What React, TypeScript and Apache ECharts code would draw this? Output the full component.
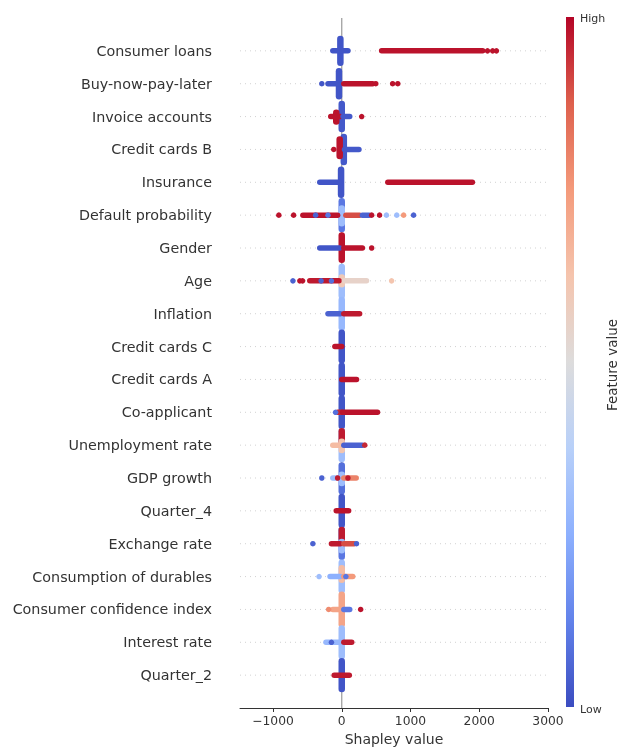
import React, { useEffect, useRef } from "react";
import * as echarts from "echarts";

// Features, top to bottom
const features = [
  "Consumer loans", "Buy-now-pay-later", "Invoice accounts", "Credit cards B", "Insurance",
  "Default probability", "Gender", "Age", "Inflation", "Credit cards C", "Credit cards A",
  "Co-applicant", "Unemployment rate", "GDP growth", "Quarter_4", "Exchange rate",
  "Consumption of durables", "Consumer confidence index", "Interest rate", "Quarter_2",
];

const xTicks = [-1000, 0, 1000, 2000, 3000];

// Dense vertical piles of points: [feature, shap value, low offset (rows), high offset (rows), feature value 0..1]
const piles: [string, number, number, number, number][] = [
  ["Consumer loans", -20, -0.36, 0.36, 0.02],
  ["Buy-now-pay-later", -40, -0.38, 0.38, 0.02],
  ["Invoice accounts", 0, -0.38, 0.38, 0.03],
  ["Invoice accounts", -80, -0.15, 0.12, 0.98],
  ["Credit cards B", 30, -0.38, 0.38, 0.03],
  ["Credit cards B", -30, -0.2, 0.3, 0.98],
  ["Insurance", -10, -0.38, 0.38, 0.02],
  ["Default probability", 0, -0.42, 0.42, 0.1],
  ["Default probability", 0, -0.25, 0.2, 0.3],
  ["Gender", 0, -0.36, 0.38, 0.98],
  ["Age", 0, -0.45, 0.42, 0.3],
  ["Age", 0, -0.1, 0.1, 0.6],
  ["Inflation", 0, -0.42, 0.42, 0.28],
  ["Credit cards C", 0, -0.42, 0.42, 0.02],
  ["Credit cards A", 0, -0.42, 0.42, 0.02],
  ["Co-applicant", 0, -0.42, 0.42, 0.02],
  ["Unemployment rate", 0, -0.42, 0.42, 0.3],
  ["Unemployment rate", 0, 0.1, 0.42, 0.97],
  ["Unemployment rate", 0, -0.15, 0.1, 0.62],
  ["GDP growth", 0, -0.4, 0.38, 0.08],
  ["GDP growth", 0, -0.15, 0.1, 0.3],
  ["Quarter_4", 0, -0.42, 0.42, 0.02],
  ["Exchange rate", 0, -0.4, 0.42, 0.1],
  ["Exchange rate", 0, 0.15, 0.42, 0.97],
  ["Exchange rate", 0, -0.2, 0.05, 0.3],
  ["Consumption of durables", 0, -0.42, 0.42, 0.3],
  ["Consumption of durables", 0, -0.1, 0.25, 0.65],
  ["Consumer confidence index", 0, -0.45, 0.45, 0.72],
  ["Interest rate", 0, -0.42, 0.42, 0.3],
  ["Quarter_2", 0, -0.42, 0.42, 0.02],
];

// Dense horizontal runs of points: [feature, from shap, to shap, feature value]
const streaks: [string, number, number, number][] = [
  ["Consumer loans", -130, 90, 0.02],
  ["Consumer loans", 580, 2050, 0.98],
  ["Buy-now-pay-later", -200, -20, 0.02],
  ["Buy-now-pay-later", 30, 450, 0.98],
  ["Invoice accounts", -160, -20, 0.98],
  ["Invoice accounts", 20, 116, 0.03],
  ["Credit cards B", 40, 250, 0.03],
  ["Insurance", -320, -20, 0.02],
  ["Insurance", 670, 1900, 0.98],
  ["Default probability", -565, -60, 0.98],
  ["Default probability", 60, 260, 0.9],
  ["Default probability", 300, 400, 0.05],
  ["Gender", -320, -30, 0.02],
  ["Gender", 30, 300, 0.98],
  ["Age", -465, -40, 0.97],
  ["Age", 40, 360, 0.55],
  ["Inflation", -200, -20, 0.05],
  ["Inflation", 30, 260, 0.97],
  ["Credit cards C", -100, 0, 0.98],
  ["Credit cards A", 0, 215, 0.98],
  ["Co-applicant", -60, 0, 0.95],
  ["Co-applicant", 10, 520, 0.98],
  ["Unemployment rate", -130, -20, 0.65],
  ["Unemployment rate", 30, 300, 0.05],
  ["GDP growth", -130, -20, 0.3],
  ["GDP growth", 30, 210, 0.8],
  ["Quarter_4", -80, 100, 0.98],
  ["Exchange rate", -150, -20, 0.97],
  ["Exchange rate", 30, 180, 0.9],
  ["Consumption of durables", -170, -20, 0.25],
  ["Consumption of durables", 30, 160, 0.75],
  ["Consumer confidence index", -130, -20, 0.72],
  ["Consumer confidence index", 30, 116, 0.1],
  ["Interest rate", -230, -20, 0.28],
  ["Interest rate", 30, 145, 0.97],
  ["Quarter_2", -110, 110, 0.97],
];

// Isolated points: [feature, shap value, feature value]
const dots: [string, number, number][] = [
  ["Consumer loans", 2120, 0.98], ["Consumer loans", 2195, 0.98], ["Consumer loans", 2250, 0.98],
  ["Buy-now-pay-later", -290, 0.02], ["Buy-now-pay-later", 495, 0.98], ["Buy-now-pay-later", 740, 0.98], ["Buy-now-pay-later", 815, 0.98],
  ["Invoice accounts", 290, 0.98],
  ["Credit cards B", -116, 0.98],
  ["Default probability", -915, 0.98], ["Default probability", -700, 0.98], ["Default probability", -380, 0.05],
  ["Default probability", -200, 0.1], ["Default probability", 435, 0.98], ["Default probability", 550, 0.98],
  ["Default probability", 650, 0.3], ["Default probability", 800, 0.3], ["Default probability", 900, 0.75],
  ["Default probability", 1045, 0.05],
  ["Gender", 435, 0.98],
  ["Age", -710, 0.05], ["Age", -610, 0.98], ["Age", -570, 0.98], ["Age", -300, 0.05], ["Age", -150, 0.08], ["Age", 725, 0.62],
  ["Co-applicant", -90, 0.08],
  ["Unemployment rate", 335, 0.95],
  ["GDP growth", -290, 0.05], ["GDP growth", -60, 0.97], ["GDP growth", 90, 0.97],
  ["Exchange rate", -420, 0.05], ["Exchange rate", 215, 0.05],
  ["Consumption of durables", -330, 0.3], ["Consumption of durables", 60, 0.1],
  ["Consumer confidence index", -190, 0.78], ["Consumer confidence index", 275, 0.98],
  ["Interest rate", -150, 0.05],
];

const X_MIN = -1480;
const X_MAX = 3000;

const coolwarm: [number, number[]][] = [
  [0, [59, 76, 192]], [0.125, [98, 130, 234]], [0.25, [141, 176, 254]], [0.375, [184, 208, 249]],
  [0.5, [221, 220, 220]], [0.625, [245, 196, 173]], [0.75, [244, 154, 123]], [0.875, [222, 96, 77]],
  [1, [180, 4, 38]],
];

function cw(t: number): string {
  const v = Math.max(0, Math.min(1, t));
  for (let i = 1; i < coolwarm.length; i++) {
    const [p1, c1] = coolwarm[i];
    const [p0, c0] = coolwarm[i - 1];
    if (v <= p1) {
      const f = (v - p0) / (p1 - p0);
      const c = c0.map((a, k) => Math.round(a + (c1[k] - a) * f));
      return `rgb(${c[0]},${c[1]},${c[2]})`;
    }
  }
  return "rgb(180,4,38)";
}

const rowOf = (name: string) => features.length - 1 - features.indexOf(name);

export default function App() {
  const ref = useRef<HTMLDivElement>(null);
  useEffect(() => {
    if (!ref.current) return;
    const chart = echarts.init(ref.current, undefined, { renderer: "svg" });

    const lineItem = (width: number) => (params: any, api: any) => {
      const p1 = api.coord([api.value(0), api.value(1)]);
      const p2 = api.coord([api.value(2), api.value(3)]);
      return {
        type: "line",
        shape: { x1: p1[0], y1: p1[1], x2: p2[0], y2: p2[1] },
        style: { stroke: cw(api.value(4)), lineWidth: width, lineCap: "round" },
      };
    };

    const gridData = features.map((f) => [X_MIN, rowOf(f), X_MAX, rowOf(f)]);
    const pileData = piles.map(([f, x, lo, hi, c]) => [x, rowOf(f) + lo, x, rowOf(f) + hi, c]);
    const streakData = streaks.map(([f, a, b, c]) => [a, rowOf(f), b, rowOf(f), c]);
    const dotData = dots.map(([f, x, c]) => [x, rowOf(f), c]);

    const option: any = {
      animation: false,
      textStyle: { fontFamily: "DejaVu Sans" },
      grid: { left: 240, right: 88, top: 18, bottom: 43, containLabel: false, outerBoundsMode: "none" },
      xAxis: {
        type: "value",
        min: X_MIN,
        max: X_MAX,
        axisLine: { show: true, onZero: false, lineStyle: { color: "#333", width: 1 } },
        axisTick: { show: true, length: 4, lineStyle: { color: "#333" }, customValues: xTicks },
        axisLabel: {
          customValues: xTicks,
          color: "#333",
          fontSize: 12.3,
          margin: 7,
          formatter: (v: number) => (v < 0 ? "\u2212" + Math.abs(v) : String(v)),
        },
        splitLine: { show: false },
        name: "Shapley value",
        nameLocation: "middle",
        nameGap: 21,
        nameTextStyle: { fontSize: 14, color: "#333" },
      },
      yAxis: {
        type: "value",
        min: -1,
        max: 20,
        interval: 1,
        axisLine: { show: false },
        axisTick: { show: false },
        splitLine: { show: false },
        axisLabel: {
          color: "#333",
          fontSize: 14.3,
          margin: 28,
          formatter: (v: number) => (v >= 0 && v <= features.length - 1 ? features[features.length - 1 - v] : ""),
        },
      },
      series: [
        {
          type: "custom",
          silent: true,
          encode: { x: [0, 2], y: [1, 3] },
          data: gridData,
          renderItem: (params: any, api: any) => {
            const p1 = api.coord([api.value(0), api.value(1)]);
            const p2 = api.coord([api.value(2), api.value(3)]);
            return {
              type: "line",
              shape: { x1: p1[0], y1: p1[1], x2: p2[0], y2: p2[1] },
              style: { stroke: "#d2d2d2", lineWidth: 1, lineDash: [1, 4] },
            };
          },
        },
        {
          type: "custom",
          silent: true,
          encode: { x: [0, 2], y: [1, 3] },
          data: [[0, -1, 0, 20]],
          renderItem: (params: any, api: any) => {
            const p1 = api.coord([api.value(0), api.value(1)]);
            const p2 = api.coord([api.value(2), api.value(3)]);
            return {
              type: "line",
              shape: { x1: p1[0], y1: p1[1], x2: p2[0], y2: p2[1] },
              style: { stroke: "#999999", lineWidth: 1.2 },
            };
          },
        },
        {
          type: "custom",
          encode: { x: [0, 2], y: [1, 3] },
          data: pileData,
          renderItem: lineItem(6.5),
        },
        {
          type: "custom",
          encode: { x: [0, 2], y: [1, 3] },
          data: streakData,
          renderItem: lineItem(5.5),
        },
        {
          type: "scatter",
          symbol: "circle",
          symbolSize: 5.5,
          data: dotData,
          itemStyle: { color: (p: any) => cw(p.value[2]), opacity: 1 },
        },
      ],
      graphic: [
        {
          type: "rect",
          shape: { x: 566, y: 17, width: 8, height: 690 },
          style: {
            fill: {
              type: "linear",
              x: 0, y: 0, x2: 0, y2: 1,
              colorStops: coolwarm.map(([o, c]) => ({ offset: 1 - o, color: `rgb(${c[0]},${c[1]},${c[2]})` })).reverse(),
            },
          },
        },
        {
          type: "text",
          x: 580, y: 18,
          style: { text: "High", fill: "#333", font: "11px 'DejaVu Sans'", textAlign: "left", textVerticalAlign: "middle", align: "left", verticalAlign: "middle" },
        },
        {
          type: "text",
          x: 580, y: 709,
          style: { text: "Low", fill: "#333", font: "11px 'DejaVu Sans'", textAlign: "left", textVerticalAlign: "middle", align: "left", verticalAlign: "middle" },
        },
        {
          type: "text",
          x: 612, y: 365,
          rotation: Math.PI / 2,
          style: { text: "Feature value", fill: "#333", font: "13.5px 'DejaVu Sans'", textAlign: "center", textVerticalAlign: "middle", align: "center", verticalAlign: "middle" },
        },
      ],
    };
    chart.setOption(option);
    return () => chart.dispose();
  }, []);

  return <div ref={ref} style={{ position: "fixed", left: 0, top: 0, width: 636, height: 751 }} />;
}
